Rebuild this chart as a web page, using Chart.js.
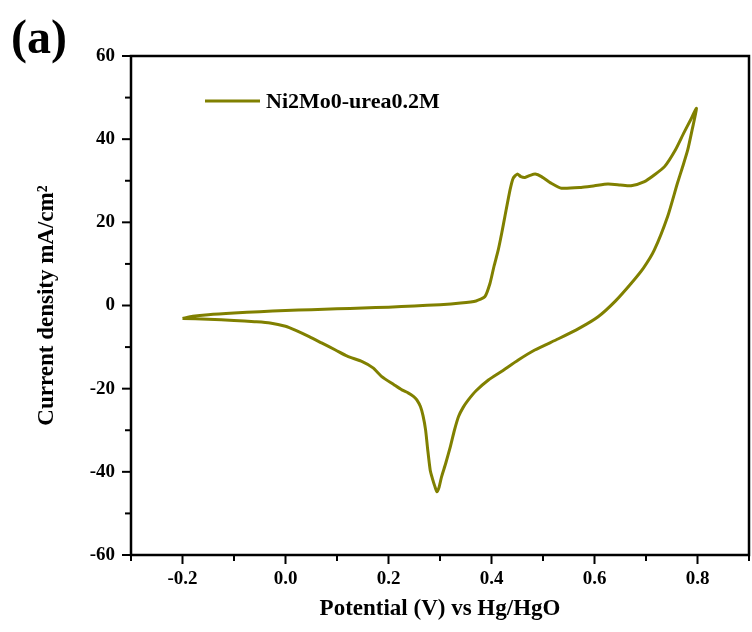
<!DOCTYPE html>
<html>
<head>
<meta charset="utf-8">
<script src="https://cdn.jsdelivr.net/npm/chart.js@4/dist/chart.umd.min.js"></script>
<style>
  html, body { margin: 0; padding: 0; background: #fff; }
  #wrap { width: 752px; height: 632px; }
</style>
</head>
<body>
<div id="wrap"><canvas id="cv"></canvas></div>
<script>
// CV-kierros: anodinen haara ensin, sitten paluu
const potential = [
  -0.200, -0.180, -0.150, -0.100, -0.050, 0.000, 0.050, 0.100, 0.150, 0.200,
  0.250, 0.300, 0.340, 0.370, 0.387, 0.397, 0.405, 0.413, 0.420, 0.426,
  0.436, 0.442, 0.450, 0.457, 0.465, 0.475, 0.485, 0.497, 0.516, 0.536,
  0.574, 0.600, 0.626, 0.650, 0.671, 0.697, 0.716, 0.736, 0.757, 0.773,
  0.786, 0.798,
  0.790, 0.781, 0.771, 0.761, 0.742, 0.716, 0.695, 0.671, 0.640, 0.607,
  0.570, 0.530, 0.484, 0.452, 0.420, 0.394, 0.370, 0.355, 0.345, 0.336,
  0.328, 0.320, 0.311, 0.303, 0.298, 0.294, 0.290, 0.285, 0.281, 0.276,
  0.272, 0.267, 0.262, 0.255, 0.249, 0.238, 0.226, 0.210, 0.187, 0.170,
  0.149, 0.120, 0.097, 0.070, 0.046, 0.020, 0.000, -0.030, -0.060, -0.100,
  -0.150, -0.200
];
const current = [
  -3.1, -2.6, -2.2, -1.8, -1.5, -1.2, -1.0, -0.8, -0.6, -0.4,
  -0.1, 0.2, 0.6, 1.1, 2.1, 5.3, 9.5, 13.3, 17.5, 21.4,
  27.8, 30.6, 31.6, 31.0, 30.8, 31.3, 31.6, 31.0, 29.4, 28.2,
  28.4, 28.8, 29.2, 29.0, 28.8, 29.8, 31.4, 33.4, 37.4, 41.4,
  44.5, 47.4,
  42.5, 37.4, 33.3, 29.4, 21.4, 13.3, 9.0, 5.3, 1.0, -2.7,
  -5.5, -8.0, -10.7, -13.1, -15.8, -17.9, -20.5, -22.7, -24.5, -26.7,
  -30.0, -34.0, -38.0, -41.2, -43.8, -44.8, -43.5, -41.5, -39.6, -34.5,
  -29.9, -26.5, -24.3, -22.7, -21.9, -21.0, -20.3, -19.0, -17.1, -15.0,
  -13.5, -12.2, -10.7, -9.0, -7.5, -6.0, -5.0, -4.2, -3.9, -3.6,
  -3.3, -3.1
];
const seriesName = "Ni2Mo0-urea0.2M";
const xTitle = "Potential (V) vs Hg/HgO";
const yTitle = "Current density mA/cm\u00B2";
const panelLabel = "(a)";

const serif = "'Liberation Serif', 'Times New Roman', serif";
const olive = "#808000";

// kehys, tikit, legenda ja (a)-teksti piirretään itse
const framePlugin = {
  id: "frame",
  afterDraw(chart) {
    const ctx = chart.ctx;
    const a = chart.chartArea;
    const xs = chart.scales.x, ys = chart.scales.y;
    ctx.save();
    ctx.strokeStyle = "#000";
    ctx.lineWidth = 2.5;
    ctx.strokeRect(a.left, a.top, a.right - a.left, a.bottom - a.top);

    ctx.lineWidth = 2;
    xs.ticks.forEach((t, i) => {
      const px = xs.getPixelForTick(i);
      const major = Math.round(t.value * 10) % 2 === 0;
      ctx.beginPath();
      ctx.moveTo(px, a.bottom);
      ctx.lineTo(px, a.bottom + (major ? 9 : 6));
      ctx.stroke();
    });
    ys.ticks.forEach((t, i) => {
      const py = ys.getPixelForTick(i);
      const major = Math.round(t.value) % 20 === 0;
      ctx.beginPath();
      ctx.moveTo(a.left, py);
      ctx.lineTo(a.left - (major ? 9 : 6), py);
      ctx.stroke();
    });

    // legenda
    const lx = a.left + 74, ly = 101;
    ctx.strokeStyle = olive;
    ctx.lineWidth = 3;
    ctx.beginPath();
    ctx.moveTo(lx, ly);
    ctx.lineTo(lx + 55, ly);
    ctx.stroke();
    ctx.fillStyle = "#000";
    ctx.font = "bold 22px " + serif;
    ctx.textBaseline = "middle";
    ctx.textAlign = "left";
    ctx.fillText(seriesName, lx + 61, ly + 1);

    ctx.font = "bold 48px " + serif;
    ctx.textBaseline = "alphabetic";
    ctx.fillText(panelLabel, 11, 53);
    ctx.restore();
  }
};

const points = potential.map((v, i) => ({ x: v, y: current[i] }));

new Chart(document.getElementById("cv"), {
  type: "scatter",
  data: {
    datasets: [{
      label: seriesName,
      data: points,
      showLine: true,
      borderColor: olive,
      backgroundColor: olive,
      borderWidth: 3,
      pointRadius: 0,
      tension: 0.2
    }]
  },
  options: {
    responsive: true,
    maintainAspectRatio: false,
    animation: false,
    layout: { padding: { top: 56, right: 3, left: 0, bottom: 0 } },
    plugins: {
      legend: { display: false },
      tooltip: { enabled: false }
    },
    scales: {
      x: {
        type: "linear",
        min: -0.3,
        max: 0.9,
        grid: { display: false, drawTicks: false },
        border: { display: false },
        ticks: {
          stepSize: 0.1,
          autoSkip: false,
          maxRotation: 0,
          padding: 13,
          color: "#000",
          font: { family: serif, size: 19, weight: "bold" },
          callback: v => (Math.round(v * 10) % 2 === 0 ? v.toFixed(1) : "")
        },
        title: {
          display: true,
          text: xTitle,
          color: "#000",
          font: { family: serif, size: 23, weight: "bold" },
          padding: { top: 0, bottom: 9 }
        },
        afterFit: s => { s.height = 77; s.paddingLeft = 0; s.paddingRight = 0; }
      },
      y: {
        type: "linear",
        min: -60,
        max: 60,
        grid: { display: false, drawTicks: false },
        border: { display: false },
        ticks: {
          stepSize: 10,
          autoSkip: false,
          padding: 16,
          color: "#000",
          font: { family: serif, size: 19, weight: "bold" },
          callback: v => (Math.round(v) % 20 === 0 ? String(v) : "")
        },
        title: {
          display: true,
          text: yTitle,
          color: "#000",
          font: { family: serif, size: 23, weight: "bold" },
          padding: { top: 33, bottom: 0 }
        },
        afterFit: s => { s.width = 131; }
      }
    }
  },
  plugins: [framePlugin]
});
</script>
</body>
</html>
